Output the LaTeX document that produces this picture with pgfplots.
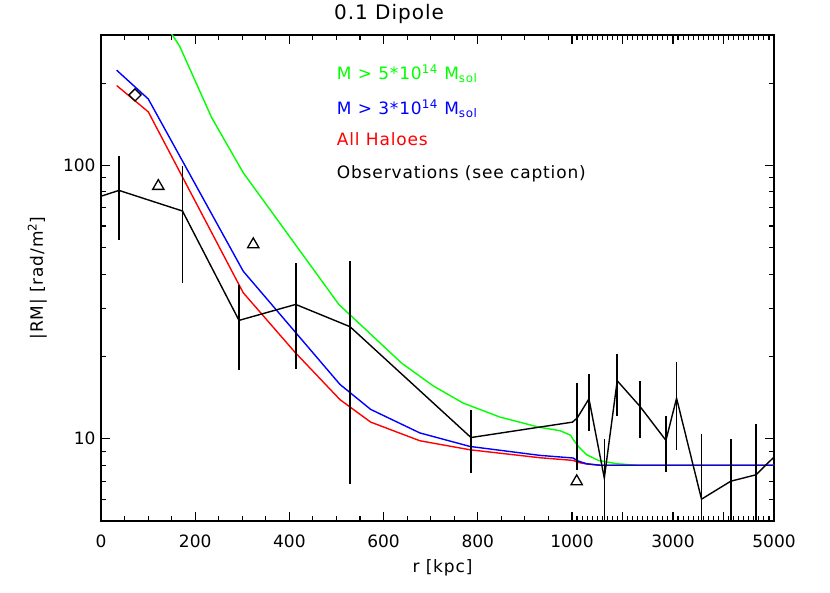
\documentclass[border=0pt]{standalone}
\usepackage{fontspec}
\setmainfont{DejaVu Sans}
\newfontfamily\lsfont{DejaVu Sans}[LetterSpace=5]
\usepackage{pgfplots}
\pgfplotsset{compat=1.18}
\definecolor{idlgreen}{RGB}{0,255,0}
\definecolor{idlblue}{RGB}{0,0,255}
\definecolor{idlred}{RGB}{255,0,0}
\begin{document}
\begin{tikzpicture}
\path[use as bounding box] (-101bp,-72bp) rectangle (729bp,521bp);
\begin{axis}[
  at={(0,0)}, anchor=south west, scale only axis,
  width=673bp, height=486bp,
  xmin=0, xmax=1428.9,
  ymode=log, ymin=5, ymax=300,
  xtick={0,200,400,600,800,1000,1107.2,1214.4,1321.7,1428.9},
  xticklabels={0,200,400,600,800,1000,,3000,,5000},
  minor xtick={50,100,150,250,300,350,450,500,550,650,700,750,850,900,950,
    1010.7,1021.4,1032.2,1042.9,1053.6,1064.3,1075.1,1085.8,1096.5,
    1117.9,1128.7,1139.4,1150.1,1160.8,1171.5,1182.3,1193.0,1203.7,
    1225.1,1235.9,1246.6,1257.3,1268.0,1278.8,1289.5,1300.2,1310.9,
    1332.4,1343.1,1353.8,1364.5,1375.3,1386.0,1396.7,1407.4,1418.2},
  ytick={10,100}, yticklabels={10,100},
  minor ytick={5,6,7,8,9,20,30,40,50,60,70,80,90,200,300},
  major tick length=9bp, minor tick length=5bp,
  tick style={black, line width=1.1bp},
  axis line style={line width=1.5bp},
  /pgf/number format/assume math mode=true,
  tick label style={font=\fontsize{17bp}{20bp}\selectfont},
  xticklabel style={yshift=-10bp},
  yticklabel style={xshift=-2bp},
  title={0.1 Dipole},
  title style={at={(axis description cs:0.428,1.0206)}, anchor=base, font=\lsfont\fontsize{20bp}{24bp}\selectfont},
  xlabel={r [kpc]},
  xlabel style={at={(axis description cs:0.5074,-0.1064)}, anchor=base, font=\lsfont\fontsize{17bp}{20bp}\selectfont},
  ylabel={|RM| [rad/m\textsuperscript{2}]},
  ylabel style={at={(axis description cs:-0.0862,0.5)}, anchor=base, font=\lsfont\fontsize{17bp}{20bp}\selectfont},
]
% M > 5e14
\addplot[idlgreen, line width=1.4bp] coordinates {
 (100,411) (167,273) (235,149.5) (302,94.0) (505,31.0) (638.4,18.9)
 (705.5,15.6) (769,13.5) (847,12.0) (932,11.0) (974.5,10.7) (997,10.3)
 (1002.8,9.92) (1013.4,9.37) (1031,8.74) (1055.8,8.33) (1095,8.10)
 (1137,8.0) (1428.9,8.0)};
% All haloes
\addplot[idlred, line width=1.4bp] coordinates {
 (33.3,196) (100.4,157) (302,34.2) (412,20.7) (507.4,13.9) (572.6,11.5)
 (677,9.83) (783.4,9.11) (932,8.52) (1002.7,8.33) (1013,8.19) (1031,8.08)
 (1059,8.0) (1428.9,8.0)};
% M > 3e14
\addplot[idlblue, line width=1.4bp] coordinates {
 (33.3,223) (100.4,175) (302,41.0) (507.4,15.8) (572.6,12.8) (677,10.5)
 (783.4,9.37) (932,8.69) (1002.7,8.50) (1011,8.31) (1031,8.10) (1059,8.0)
 (1428.9,8.0)};
% Observations line
\addplot[black, line width=1.4bp] coordinates {
 (-12.7,75.9) (38.2,81.0) (173,68.1) (293,27.1) (413.4,31.0) (528.7,25.7)
 (785.5,10.1) (1001,11.5) (1011,11.9) (1036,14.0) (1068.6,7.18) (1096,16.3)
 (1144,13.15) (1199.5,9.86) (1222,14.07) (1275,6.01) (1337,6.99)
 (1390.6,7.38) (1428.9,8.57)};
% Observation error bars
\addplot[draw=none, mark=none,
  error bars/.cd, y dir=both, y explicit,
  error mark=none, error bar style={black, line width=1.6bp}]
  table[x=u, y=v, y error=e] {
u v e
38.2 81.0 27.6
173 68.1 31.0
293 27.1 9.3
413.4 31.0 13.05
528.7 25.7 18.85
785.5 10.1 2.6
1011 11.85 4.15
1036 14.0 3.3
1068.6 7.18 2.79
1096 16.3 4.2
1144 13.15 3.05
1199.5 9.86 2.3
1222 14.07 5.0
1275 6.01 4.4
1337 6.99 2.98
1390.6 7.38 3.92
};
% triangles
\addplot[only marks, mark=triangle, mark size=6.5bp, black, mark options={line width=1.3bp}] coordinates {
 (121.7,84.0) (323.3,51.4) (1010,6.98)};
% diamond
\addplot[only marks, mark=square, mark size=4.3bp, black, mark options={line width=1.3bp, rotate=45}] coordinates {
 (72.2,181)};
% legend texts
\node[anchor=base west, inner sep=0, text=idlgreen, font=\lsfont\fontsize{17bp}{20bp}\selectfont]
  at (axis description cs:0.3502,0.9088) {M > 5*10\textsuperscript{14} M\textsubscript{sol}};
\node[anchor=base west, inner sep=0, text=idlblue, font=\lsfont\fontsize{17bp}{20bp}\selectfont]
  at (axis description cs:0.3502,0.8368) {M > 3*10\textsuperscript{14} M\textsubscript{sol}};
\node[anchor=base west, inner sep=0, text=idlred, font=\lsfont\fontsize{17bp}{20bp}\selectfont]
  at (axis description cs:0.3502,0.7722) {All Haloes};
\node[anchor=base west, inner sep=0, text=black, font=\lsfont\fontsize{17bp}{20bp}\selectfont]
  at (axis description cs:0.3502,0.7037) {Observations (see caption)};
\end{axis}
\end{tikzpicture}
\end{document}
